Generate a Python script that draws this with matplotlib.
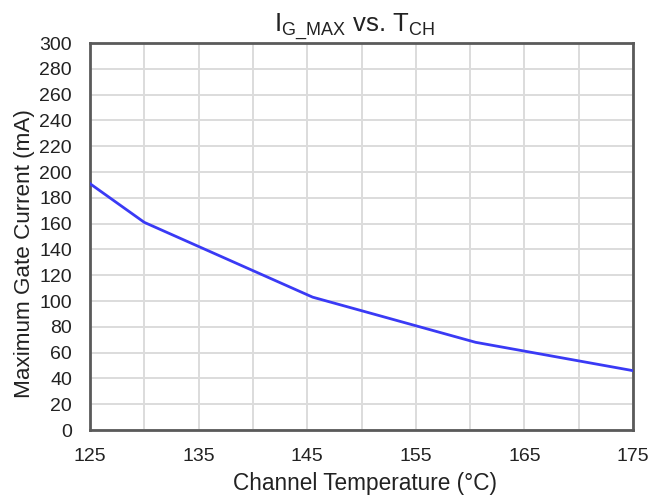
import matplotlib.pyplot as plt
import numpy as np

# data
channel_temp = [125, 130, 145.5, 160.5, 175]
gate_current = [191, 161, 103, 68, 46]

x_ticks = [125, 135, 145, 155, 165, 175]
y_ticks = list(range(0, 301, 20))

plt.rcParams['font.family'] = ['Liberation Sans', 'DejaVu Sans']
plt.rcParams['mathtext.fontset'] = 'custom'
plt.rcParams['mathtext.rm'] = 'Liberation Sans'

fig = plt.figure(figsize=(6.65, 4.95), dpi=100)
ax = fig.add_axes([0.1353, 0.1313, 0.8167, 0.7817])

ax.plot(channel_temp, gate_current, color='#3a3af5', linewidth=2, zorder=3)

ax.set_xlim(125, 175)
ax.set_ylim(0, 300)
ax.set_xticks(x_ticks)
ax.set_xticks(np.arange(125, 176, 5), minor=True)
ax.set_yticks(y_ticks)
ax.tick_params(which='both', length=0, labelsize=14, colors='#222222')
ax.tick_params(axis='x', which='major', pad=13)
ax.tick_params(axis='y', which='major', pad=13)

ax.grid(True, which='both', color='#dcdcdc', linewidth=1.4)
ax.set_axisbelow(True)

for spine in ax.spines.values():
    spine.set_color('#5a5a5a')
    spine.set_linewidth(2)

ax.set_title(r'$\mathregular{I_{G\_MAX}}$ vs. $\mathregular{T_{CH}}$',
             fontsize=18.5, pad=6, color='#222222', x=0.487)
ax.set_xlabel('Channel Temperature (°C)', fontsize=16.3, color='#222222')
ax.set_ylabel('Maximum Gate Current (mA)', fontsize=16.2, color='#222222')
ax.xaxis.set_label_coords(0.507, -0.108)
ax.yaxis.set_label_coords(-0.102, 0.457)

fig.savefig('out.png', dpi=100)
